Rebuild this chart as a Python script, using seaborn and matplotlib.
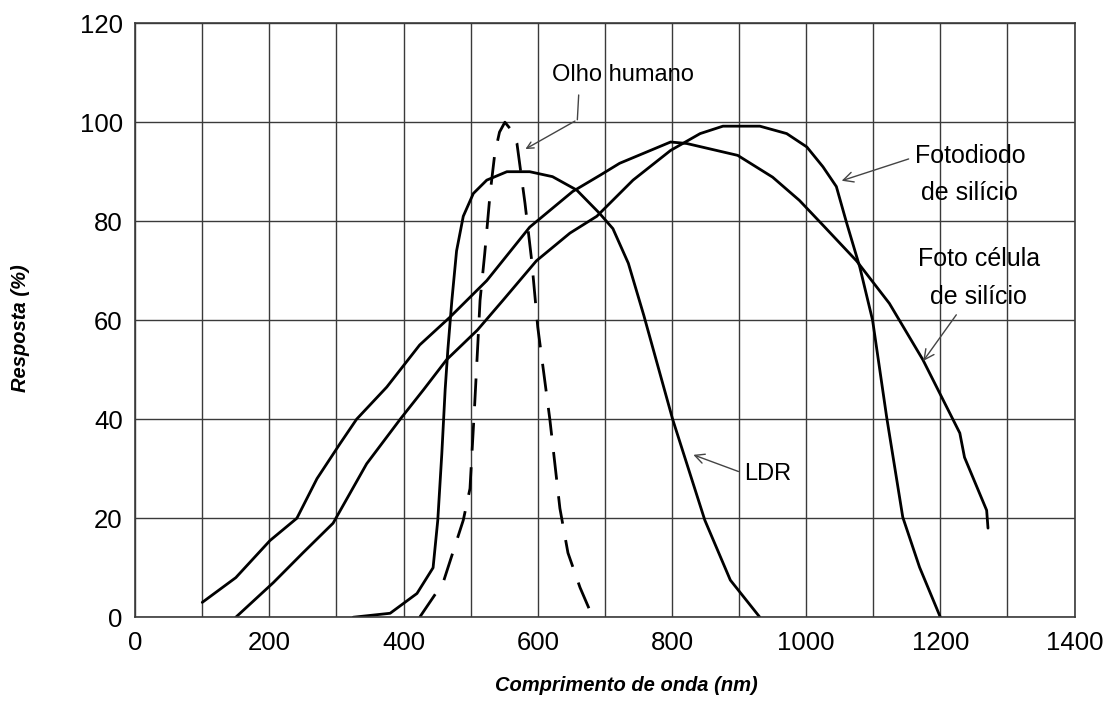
import pandas as pd
import matplotlib.pyplot as plt
import seaborn as sns

# Curves (wavelength in nm, response in %)
fotodiodo_x = [150, 206, 250, 295, 320, 345, 395, 430, 464, 510, 548, 598, 648, 688, 742, 798, 842, 876, 931, 971,
               1001, 1025, 1045, 1060, 1080, 1099, 1120, 1144, 1169, 1200]
fotodiodo_y = [0, 7, 13, 19, 25, 31, 40, 46, 52, 58, 64, 72, 77.6, 81, 88.3, 94.3, 97.7, 99.2, 99.2, 97.7,
               95, 91, 87, 79.8, 70.7, 60, 40.4, 20.2, 10.1, 0]

celula_x = [100, 150, 201, 241, 271, 305, 330, 375, 424, 469, 524, 588, 652, 693, 722, 798, 822, 898, 950, 990,
            1025, 1075, 1124, 1174, 1229, 1236, 1269, 1271]
celula_y = [3, 8, 15.5, 20, 28, 35, 40, 46.5, 55, 60.6, 68, 78.8, 86, 89.3, 91.7, 96, 95.7, 93.3, 88.9, 84.2,
            79.2, 72, 63.4, 52, 37.2, 32.3, 21.6, 18]

ldr_x = [325, 380, 420, 444, 451, 457, 462, 466, 472, 479, 489, 504, 524, 554, 588, 622, 658, 692, 712, 735, 758,
         801, 849, 887, 931]
ldr_y = [0, 0.8, 4.8, 10, 19.6, 33, 46, 54, 64, 74, 81, 85.6, 88.3, 90, 90, 89, 86.3, 81.6, 78.5, 71.5, 61,
         40, 19.6, 7.5, 0]

olho_x = [424, 459, 489, 499, 506, 511, 514, 521, 529, 536, 543, 551, 560, 569, 581, 591, 600, 618, 633, 645, 663, 682]
olho_y = [0, 7, 19.6, 26, 43, 56, 64, 73.5, 85.6, 93.7, 98, 100, 98.5, 95.7, 83.6, 72, 58.6, 40, 22, 13, 6, 0]

x_ticks = [0, 200, 400, 600, 800, 1000, 1200, 1400]
y_ticks = [0, 20, 40, 60, 80, 100, 120]


def make_df(name, xs, ys):
    return pd.DataFrame({"curva": name, "x": xs, "y": ys})


df = pd.concat([
    make_df("Fotodiodo", fotodiodo_x, fotodiodo_y),
    make_df("Celula", celula_x, celula_y),
    make_df("LDR", ldr_x, ldr_y),
    make_df("Olho", olho_x, olho_y),
])

sns.set_theme(style="whitegrid")
plt.rcParams["font.family"] = ["Liberation Sans", "DejaVu Sans"]
plt.rcParams["text.color"] = "black"

fig, ax = plt.subplots(figsize=(11.17, 7.03), dpi=100)
fig.subplots_adjust(left=0.121, right=0.962, top=0.967, bottom=0.122)

sns.lineplot(data=df, x="x", y="y", hue="curva", style="curva",
             palette={"Fotodiodo": "black", "Celula": "black", "LDR": "black", "Olho": "black"},
             dashes={"Fotodiodo": "", "Celula": "", "LDR": "", "Olho": (10, 6)},
             sort=False, estimator=None, linewidth=2.0, legend=False, ax=ax)

ax.set_xlim(0, 1400)
ax.set_ylim(0, 120)
ax.set_xticks(range(0, 1401, 100))
ax.set_xticklabels([str(v) if v in x_ticks else "" for v in range(0, 1401, 100)])
ax.set_yticks(y_ticks)
ax.grid(True, color="#3a3a3a", linewidth=1.0)
ax.tick_params(length=0, labelsize=18.5, colors="black")
ax.tick_params(axis="y", pad=9)
ax.tick_params(axis="x", pad=10)
for s in ax.spines.values():
    s.set_color("#3a3a3a")
    s.set_linewidth(1.2)

ax.set_xlabel("Comprimento de onda (nm)", fontsize=14.5, style="italic", weight="bold", color="black")
ax.set_ylabel("Resposta (%)", fontsize=14.5, style="italic", weight="bold", color="black")
ax.xaxis.set_label_coords(0.523, -0.099)
ax.yaxis.set_label_coords(-0.112, 0.487)

arrow = dict(arrowstyle="->", color="#444444", lw=1.0)
ax.text(727, 109.5, "Olho humano", fontsize=17, ha="center", va="center")
ax.plot([661, 659], [105.5, 100.5], color="#444444", lw=1.0)
ax.annotate("", xy=(578, 94.3), xytext=(659, 100.5), arrowprops=arrow)

ax.annotate("Fotodiodo\nde silício", xy=(1049, 88), xytext=(1244, 89.5), fontsize=18,
            ha="center", va="center", linespacing=1.7, arrowprops=dict(arrow, relpos=(0, 0.78)))
ax.annotate("Foto célula\nde silício", xy=(1172, 51.3), xytext=(1257, 68.5), fontsize=18,
            ha="center", va="center", linespacing=1.75, arrowprops=dict(arrow, relpos=(0.35, 0)))
ax.annotate("LDR", xy=(828, 33), xytext=(943, 29), fontsize=17,
            ha="center", va="center", arrowprops=dict(arrow, relpos=(0, 0.5)))

fig.savefig("out.png", dpi=100)
